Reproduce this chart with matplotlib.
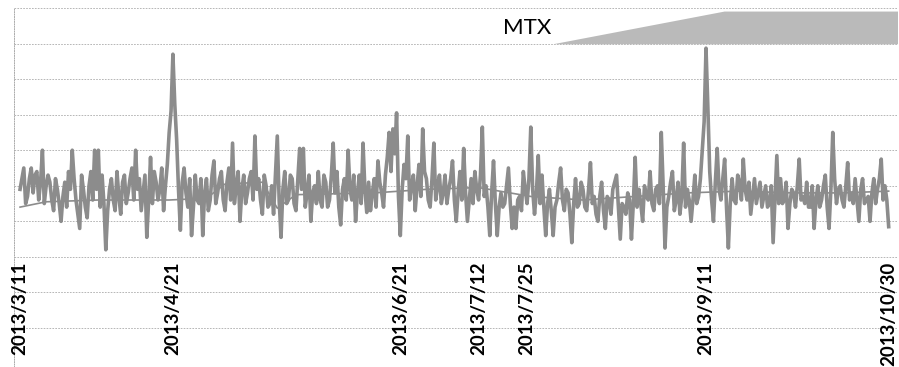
import numpy as np
import pandas as pd
import matplotlib
matplotlib.use('Agg')
import matplotlib.pyplot as plt

# Serie (unidades = líneas de la cuadrícula): un valor a las 00h de cada día...
fecha_inicio = '2013-03-11'
valores = [
    3.9, 4.5, 3.7, 4.5, 4.3, 3.6, 5.0, 4.0, 4.1, 3.3,
    3.9, 3.0, 4.1, 4.4, 5.0, 3.6, 2.8, 3.9, 3.1, 4.4,
    5.0, 5.0, 4.3, 2.2, 3.9, 3.6, 4.4, 3.2, 4.3, 3.8,
    4.5, 5.0, 4.2, 3.8, 2.55, 4.8, 4.4, 3.6, 4.5, 4.0,
    5.5, 7.7, 5.3, 2.75, 4.5, 3.4, 2.6, 4.3, 3.5, 2.6,
    4.2, 3.6, 4.7, 3.8, 4.4, 3.3, 4.5, 5.2, 4.0, 3.0,
    4.3, 3.8, 4.4, 5.4, 4.2, 3.2, 4.0, 3.5, 3.2, 5.4,
    2.55, 4.4, 3.6, 4.2, 3.3, 5.05, 5.05, 3.8, 3.0, 4.0,
    4.4, 3.4, 4.1, 3.6, 5.2, 4.4, 2.9, 4.2, 5.0, 3.6,
    3.0, 4.3, 5.2, 3.25, 3.3, 4.2, 4.7, 3.8, 4.3, 5.5,
    5.6, 6.05, 2.6, 4.6, 5.4, 4.0, 3.3, 4.6, 5.6, 4.2,
    3.4, 5.2, 4.0, 3.5, 4.3, 3.9, 4.7, 3.0, 4.4, 5.05,
    3.0, 4.2, 4.4, 3.6, 5.65, 4.0, 2.6, 4.7, 2.6, 3.8,
    3.5, 4.5, 2.8, 2.8, 3.7, 4.4, 3.5, 5.65, 3.2, 4.85,
    4.3, 2.6, 3.9, 2.6, 3.6, 4.5, 3.3, 3.8, 2.4, 4.2,
    3.5, 3.9, 3.3, 4.65, 3.7, 3.0, 4.1, 2.8, 3.6, 3.9,
    4.3, 2.5, 3.4, 3.8, 2.5, 4.8, 3.9, 3.0, 3.7, 4.4,
    3.3, 4.0, 5.5, 2.25, 3.7, 4.4, 3.6, 3.2, 5.2, 3.9,
    3.0, 4.3, 3.7, 5.0, 7.87, 4.4, 3.0, 5.05, 3.6, 4.75,
    2.25, 4.2, 3.5, 4.1, 4.75, 3.6, 3.2, 4.2, 3.8, 3.4,
    4.0, 3.5, 2.4, 4.85, 4.2, 3.6, 2.8, 3.9, 3.4, 4.75,
    3.7, 4.1, 3.4, 2.8, 4.0, 3.6, 4.3, 2.8, 5.5, 3.5,
    4.0, 3.4, 4.65, 3.8, 4.2, 3.0, 4.2, 3.6, 3.0, 4.2,
    3.9, 4.75, 4.0, 2.85,
]

# ... y otro a las 12h (entre dos días consecutivos)
valores_mediodia = [
    4.2, 3.5, 4.2, 3.8, 4.4, 4.1, 3.5, 4.3, 3.6, 4.2,
    3.5, 3.7, 3.4, 3.9, 4.2, 3.2, 4.3, 3.4, 4.0, 3.6,
    3.9, 3.4, 3.5, 3.3, 4.2, 3.3, 3.7, 4.1, 3.5, 4.2,
    3.6, 3.9, 3.3, 4.3, 3.6, 3.5, 4.1, 3.9, 3.3, 4.6,
    6.1, 6.3, 3.9, 4.1, 3.8, 4.2, 3.4, 3.6, 4.2, 3.8,
    3.3, 4.3, 3.5, 4.2, 3.6, 4.1, 3.6, 3.5, 4.4, 3.9,
    3.5, 4.2, 3.6, 3.9, 3.6, 4.3, 3.4, 4.0, 4.3, 3.6,
    3.9, 3.5, 4.3, 3.5, 4.2, 3.9, 3.4, 4.3, 3.8, 3.5,
    3.6, 4.3, 3.4, 4.3, 3.8, 3.4, 3.9, 3.6, 3.9, 4.3,
    3.8, 3.5, 3.9, 4.1, 3.8, 3.4, 4.1, 3.4, 4.8, 4.4,
    4.9, 3.7, 3.9, 4.2, 3.6, 4.3, 4.0, 3.7, 4.4, 3.6,
    4.2, 3.6, 4.3, 3.8, 3.5, 4.2, 3.6, 3.8, 3.6, 3.8,
    3.6, 3.5, 3.9, 4.3, 3.7, 3.4, 3.8, 3.5, 3.4, 3.4,
    4.0, 3.5, 3.4, 3.6, 3.3, 3.9, 4.2, 3.9, 3.8, 3.5,
    3.4, 3.5, 3.3, 3.4, 4.1, 3.6, 3.9, 3.2, 3.5, 3.4,
    4.1, 3.4, 3.9, 3.5, 3.2, 3.7, 3.3, 3.7, 3.2, 4.1,
    3.4, 3.5, 3.2, 3.6, 3.5, 3.4, 3.5, 4.0, 3.6, 3.5,
    3.9, 3.5, 4.0, 3.4, 4.1, 3.3, 4.1, 3.7, 3.4, 3.6,
    3.6, 3.5, 4.2, 5.8, 6.2, 3.6, 4.1, 3.9, 4.2, 3.4,
    3.5, 3.6, 4.3, 3.6, 3.9, 4.1, 3.7, 3.5, 4.1, 3.7,
    3.4, 4.0, 3.6, 3.5, 3.5, 4.1, 3.5, 3.8, 4.0, 3.6,
    3.5, 3.4, 4.0, 3.6, 3.4, 4.0, 3.4, 3.9, 4.2, 3.9,
    3.6, 4.0, 3.6, 3.5, 3.6, 3.9, 3.5, 3.7, 3.8, 3.5,
    4.2, 3.6, 3.6,
]

fechas_media = ['2013-03-11', '2013-03-18', '2013-04-01', '2013-04-20', '2013-04-30',
                '2013-05-05', '2013-05-15', '2013-05-19', '2013-05-24', '2013-06-14',
                '2013-06-28', '2013-07-12', '2013-07-26', '2013-08-09', '2013-08-23',
                '2013-09-06', '2013-09-20', '2013-10-04', '2013-10-18', '2013-10-30']
valores_media = [3.4, 3.55, 3.6, 3.6, 3.65,
                 4.05, 4.1, 3.37, 3.75, 3.8,
                 3.9, 3.95, 3.7, 3.6, 3.7,
                 3.8, 3.85, 3.8, 3.8, 3.85]

etiquetas = ['2013/3/11', '2013/4/21', '2013/6/21', '2013/7/12',
             '2013/7/25', '2013/9/11', '2013/10/30']

# Cuña "MTX" arriba a la derecha
cuna_fechas = ['2013-08-01', '2013-09-16', '2013-11-02', '2013-11-02']
cuna_valores = [7.98, 8.9, 8.9, 7.98]

# intercalar 00h y 12h
serie = np.empty(len(valores) + len(valores_mediodia))
serie[0::2] = valores
serie[1::2] = valores_mediodia
tiempos = pd.date_range(fecha_inicio, periods=len(serie), freq='12h')

fig = plt.figure(figsize=(8.99, 3.67), dpi=100)
ax = fig.add_axes([14 / 899, 0, 884 / 899, 359 / 367])

gris_linea = '#8c8c8c'
ax.plot(pd.to_datetime(fechas_media), valores_media, color=gris_linea, lw=1.2, zorder=2)
ax.plot(tiempos, serie, color=gris_linea, lw=2.6, zorder=3)

ax.fill(pd.to_datetime(cuna_fechas), cuna_valores, color='#bababa', lw=0, zorder=4)
ax.text(pd.Timestamp('2013-07-25'), 8.45, 'MTX', fontsize=16, family='Lato',
        ha='center', va='center', color='black', zorder=5)

for e in etiquetas:
    ax.text(pd.to_datetime(e, format='%Y/%m/%d'), 1.86, e, rotation=90,
            ha='center', va='top', fontsize=13.5, family='Lato', fontweight='bold',
            color='black', zorder=5)

ax.set_xlim(pd.Timestamp('2013-03-09 09:00'), pd.Timestamp('2013-11-01 12:00'))
ax.set_ylim(-39 / 35.56, 9)
ax.set_yticks(np.arange(0, 10))
ax.grid(axis='y', color='#ababab', lw=0.6, linestyle=(0, (2, 1.5)), zorder=1)
ax.tick_params(left=False, bottom=False, labelleft=False, labelbottom=False)
for lado in ['top', 'right', 'bottom']:
    ax.spines[lado].set_visible(False)
ax.spines['left'].set_color('#ababab')
ax.spines['left'].set_linestyle((0, (1, 1.5)))
ax.spines['left'].set_linewidth(0.7)

fig.savefig('out.png', dpi=100)
